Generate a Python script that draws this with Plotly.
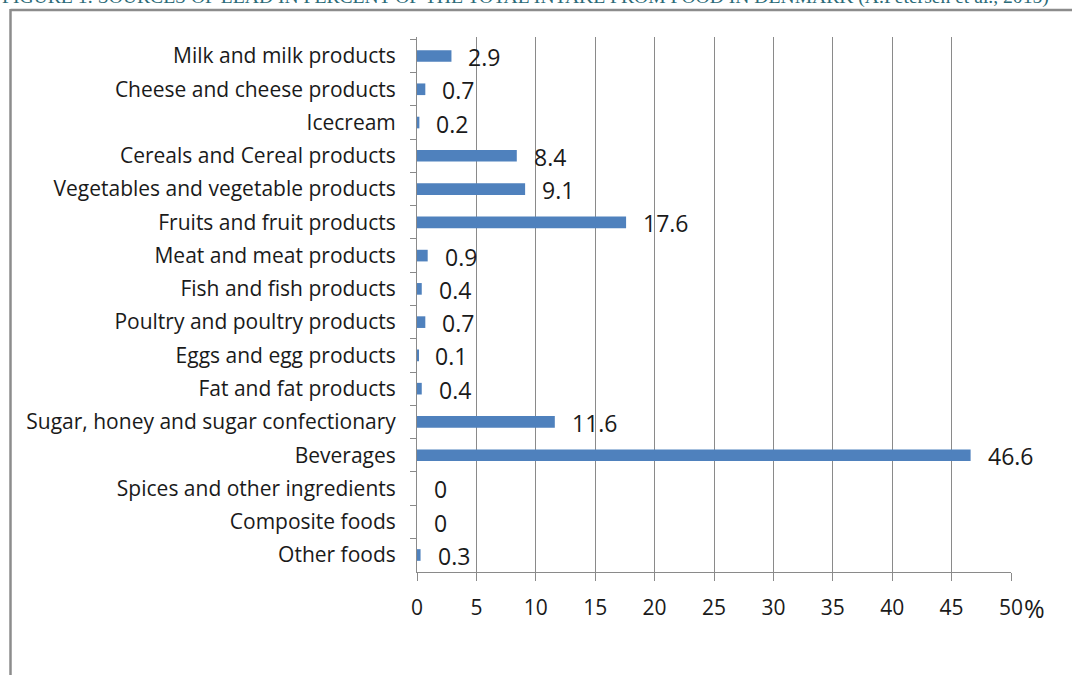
import plotly.graph_objects as go

categories = [
    "Milk and milk products",
    "Cheese and cheese products",
    "Icecream",
    "Cereals and Cereal products",
    "Vegetables and vegetable products",
    "Fruits and fruit products",
    "Meat and meat products",
    "Fish and fish products",
    "Poultry and poultry products",
    "Eggs and egg products",
    "Fat and fat products",
    "Sugar, honey and sugar confectionary",
    "Beverages",
    "Spices and other ingredients",
    "Composite foods",
    "Other foods",
]
values = [2.9, 0.7, 0.2, 8.4, 9.1, 17.6, 0.9, 0.4, 0.7, 0.1, 0.4, 11.6, 46.6, 0, 0, 0.3]
value_labels = ["2.9", "0.7", "0.2", "8.4", "9.1", "17.6", "0.9", "0.4", "0.7", "0.1",
                "0.4", "11.6", "46.6", "0", "0", "0.3"]
x_ticks = [0, 5, 10, 15, 20, 25, 30, 35, 40, 45, 50]

title_text = ("FIGURE 1: SOURCES OF LEAD IN PERCENT OF THE TOTAL INTAKE FROM FOOD "
              "IN DENMARK (A.Petersen et al., 2015)")

# page geometry (pixels)
W, H = 1072, 675
L, R, T, B = 417, 61, 37, 103
pw, ph = W - L - R, H - T - B


def px_x(px):
    return (px - L) / pw


def px_y(py):
    return 1 + (T - py) / ph


FONT = "Open Sans"
TXT = "#1a1a1a"
GRID = "#8a8a8a"

fig = go.Figure(go.Bar(
    x=values,
    y=categories,
    orientation="h",
    marker=dict(color="#4f81bd", line=dict(width=0)),
    hoverinfo="x+y",
))

# value labels to the right of each bar
for c, v, t in zip(categories, values, value_labels):
    fig.add_annotation(x=v, y=c, text=t, xanchor="left", yanchor="middle",
                       xshift=15, yshift=-1, showarrow=False,
                       font=dict(family=FONT, size=23, color=TXT))

# "%" after the last tick label
fig.add_annotation(xref="paper", yref="paper", x=1, y=0, xanchor="left", yanchor="top",
                   xshift=11, yshift=-17, text="%", showarrow=False,
                   font=dict(family=FONT, size=25, color=TXT))

# cut-off caption above the frame
fig.add_annotation(xref="paper", yref="paper", x=px_x(0), y=px_y(10), xanchor="left",
                   yanchor="bottom", text=title_text, showarrow=False,
                   font=dict(family="Liberation Serif", size=19.6, color="#2b6b78"))

# frame lines (left and top)
fig.add_shape(type="line", xref="paper", yref="paper", x0=px_x(10.5), x1=px_x(10.5),
              y0=px_y(9), y1=px_y(H + 5), line=dict(color="#8c8c8c", width=2.5))
fig.add_shape(type="line", xref="paper", yref="paper", x0=px_x(10.5), x1=px_x(W + 5),
              y0=px_y(10), y1=px_y(10), line=dict(color="#8c8c8c", width=2.5))

fig.update_layout(
    width=W, height=H,
    margin=dict(l=L, r=R, t=T, b=B, pad=0),
    paper_bgcolor="white", plot_bgcolor="white",
    bargap=0.65,
    showlegend=False,
    font=dict(family=FONT, color=TXT),
    xaxis=dict(
        range=[0, 50], tickvals=x_ticks, ticktext=[str(t) for t in x_ticks],
        showgrid=True, gridcolor=GRID, gridwidth=1,
        showline=True, linecolor=GRID, linewidth=1,
        ticks="outside", ticklen=8, tickcolor=GRID,
        ticklabelstandoff=9,
        tickfont=dict(family=FONT, size=21, color=TXT),
        zeroline=False, fixedrange=True,
    ),
    yaxis=dict(
        categoryorder="array", categoryarray=categories, autorange="reversed",
        showgrid=False, showline=True, linecolor=GRID, linewidth=1,
        ticks="outside", ticklen=6, tickcolor=GRID, tickson="boundaries",
        ticklabelstandoff=16,
        tickfont=dict(family=FONT, size=21, color=TXT),
        fixedrange=True,
    ),
)

fig.write_html("out.html", config={"displayModeBar": False},
               post_script="document.body.style.margin = '0';")
